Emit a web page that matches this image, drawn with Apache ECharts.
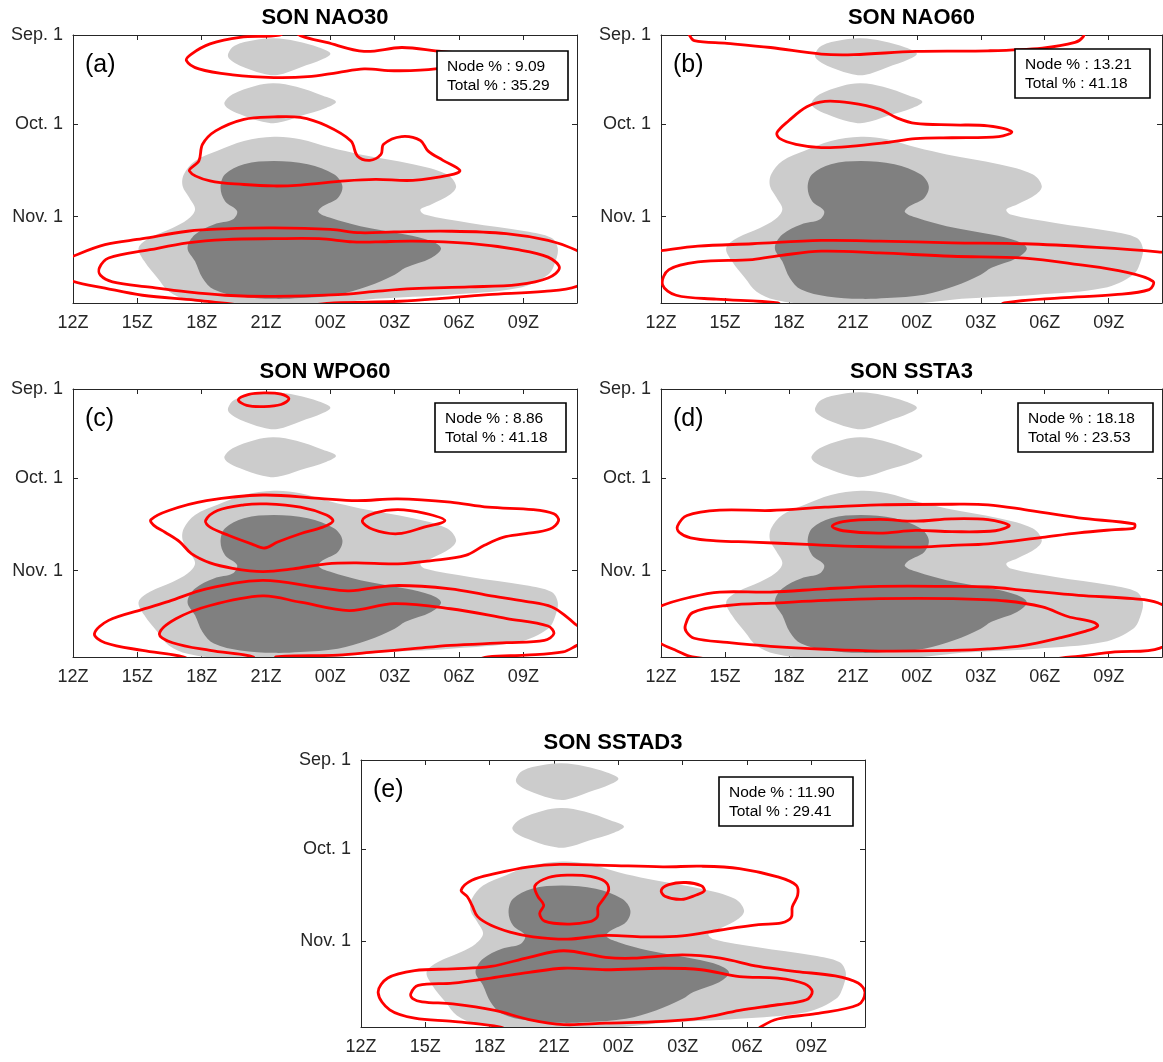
<!DOCTYPE html>
<html>
<head>
<meta charset="utf-8">
<title>SON diurnal-seasonal node occurrence</title>
<script src="https://cdn.jsdelivr.net/npm/echarts@6/dist/echarts.min.js"></script>
<style>
  html, body { margin: 0; padding: 0; background: #ffffff; }
  #chart { width: 1163px; height: 1062px; }
</style>
</head>
<body>
<div id="chart"></div>
<script>
// Axes: x = hours after 12Z, y = days after Sep. 1 (Sep. 1 .. Nov. 30)
const hourTicks = [0, 3, 6, 9, 12, 15, 18, 21];
const hourLabels = ['12Z', '15Z', '18Z', '21Z', '00Z', '03Z', '06Z', '09Z'];
const dayTicks = [0, 30, 61];
const dayLabels = ['Sep. 1', 'Oct. 1', 'Nov. 1'];

const panelTitles = ['SON NAO30', 'SON NAO60', 'SON WPO60', 'SON SSTA3', 'SON SSTAD3'];
const panelTags = ['(a)', '(b)', '(c)', '(d)', '(e)'];
const nodePct = ['9.09', '13.21', '8.86', '18.18', '11.90'];
const totalPct = ['35.29', '41.18', '41.18', '23.53', '29.41'];

// Climatological occurrence (shared by all panels): light = outer level, dark = inner level
const climLightTop = [[7.23,6.4],[7.53,3.6],[8.49,1.7],[9.37,1.1],[10.42,2.1],[11.47,4.2],[12.0,6.2],[11.65,8.1],[10.6,10.9],[9.54,13.4],[8.84,12.9],[7.79,10.3],[7.3,8.1]];
const climLightMid = [[7.06,22.7],[7.44,19.9],[8.49,17.1],[9.37,16.2],[10.42,17.4],[11.65,20.4],[12.26,22.4],[11.82,24.4],[10.6,27.2],[9.54,29.5],[8.84,29.1],[7.79,26.6],[7.18,24.4]];
const climLightMain = [[9.37,34.2],[10.6,35.0],[12.0,37.8],[13.4,40.1],[15.85,43.4],[17.43,46.8],[17.86,50.7],[17.6,53.5],[16.7,56.9],[16.2,58.6],[16.4,60.3],[18.5,63.1],[21.1,65.9],[22.3,68.1],[22.6,71.5],[22.5,76.0],[22.15,80.5],[20.75,85.0],[17.6,87.2],[14.1,88.6],[12.35,89.9],[9.37,90.5],[7.1,90.5],[5.34,88.9],[4.47,86.1],[3.94,81.6],[3.33,76.0],[3.06,71.5],[3.59,68.1],[4.64,64.8],[5.34,62.0],[5.69,58.6],[5.43,54.7],[5.11,50.7],[5.17,46.8],[5.69,42.3],[6.74,38.9],[7.97,35.6]];
const climDark = [[9.37,42.3],[10.95,43.4],[12.17,46.8],[12.56,50.7],[12.35,54.7],[11.65,57.5],[11.44,59.4],[12.0,61.4],[13.4,64.2],[15.5,67.0],[16.7,69.2],[17.16,71.7],[16.7,74.9],[15.5,78.2],[15.0,80.5],[13.75,84.4],[12.35,87.2],[10.6,88.3],[9.37,88.6],[7.8,87.8],[6.57,85.5],[6.04,81.6],[5.69,76.0],[5.34,71.5],[5.69,67.0],[6.57,63.6],[7.44,62.0],[7.65,59.1],[7.09,55.8],[6.88,51.3],[7.09,46.8],[7.97,43.4]];

// (a) SON NAO30 node contours
const nao30Top = [[10.2,-2.0],[10.6,0.2],[11.82,2.5],[13.57,5.5],[15.32,4.2],[16.9,5.3],[19.35,7.5],[16.9,11.4],[14.97,12.0],[13.57,11.4],[12.35,12.6],[10.95,14.0],[9.37,14.3],[7.44,13.4],[5.87,11.4],[5.29,8.6],[5.52,6.4],[6.39,3.0],[7.79,0.8],[9.63,0.0],[10.0,-2.0]];
const nao30Mid = [[9.37,27.5],[10.6,27.7],[11.82,30.5],[12.96,35.6],[13.26,40.6],[13.84,42.1],[14.36,40.1],[14.48,36.7],[15.32,34.1],[16.2,35.4],[16.55,38.9],[17.25,42.1],[18.04,45.5],[17.6,47.0],[15.85,48.8],[14.1,48.5],[12.7,49.0],[10.6,50.4],[9.37,50.7],[7.97,50.2],[6.39,49.0],[5.43,45.7],[5.87,42.3],[6.04,36.7],[6.65,32.2],[7.97,28.3]];
const nao30Outer = [[-1.3,78.5],[0,74.3],[1.49,70.4],[3.24,68.4],[5.34,65.9],[7.09,65.1],[9.37,64.8],[12.0,65.3],[13.4,66.4],[14.97,66.1],[17.6,65.9],[20.2,66.7],[22.15,69.0],[23.5,72.4],[24.9,78.5],[23.5,84.4],[21.98,86.1],[19.35,87.2],[16.7,88.7],[14.97,89.5],[12.17,90.0],[9.5,91.6],[6.92,90.0],[5.69,89.0],[3.24,87.4],[1.49,85.0],[0,82.7]];
const nao30Inner = [[1.23,78.2],[1.66,74.9],[3.59,72.1],[5.34,69.8],[7.09,68.7],[9.37,68.4],[11.47,68.4],[13.05,69.5],[14.1,69.5],[15.85,69.2],[18.48,70.0],[20.75,72.1],[22.15,74.6],[22.68,78.2],[22.15,81.6],[20.75,83.8],[18.48,84.6],[15.85,85.2],[14.1,86.1],[12.35,87.2],[9.37,87.8],[7.09,87.4],[5.34,86.3],[3.59,84.7],[1.84,82.9],[1.28,80.7]];

// (b) SON NAO60 node contours
const nao60Top = [[1.2,-1.8],[1.31,-0.2],[1.56,1.9],[3.1,2.8],[5.14,4.2],[7.52,6.4],[9.05,6.6],[11.94,5.5],[15.34,5.3],[17.89,4.4],[19.42,2.5],[19.8,0.6],[19.9,-1.8]];
const nao60Mid = [[5.44,32.8],[5.99,28.8],[6.84,24.1],[7.69,22.3],[8.88,22.8],[10.24,24.9],[11.09,27.9],[11.94,29.7],[13.64,30.2],[15.34,30.5],[16.45,32.5],[15.85,34.1],[13.64,34.5],[11.94,34.8],[10.58,36.1],[8.88,37.4],[7.52,37.8],[6.33,36.7],[5.56,34.7]];
const nao60Outer = [[-1.5,73.8],[0,72.4],[1.73,70.9],[4.29,70.1],[7.52,69.0],[10.24,69.2],[13.64,69.8],[17.04,70.1],[20.44,71.3],[23.3,72.8],[24.8,74.2]];
const nao60Inner = [[5.7,91.8],[5.48,90.0],[2.59,88.7],[0.71,87.4],[0.07,83.8],[0.37,78.8],[1.73,76.2],[4.29,75.4],[5.65,74.0],[7.52,72.6],[10.24,73.2],[13.64,74.3],[17.04,74.9],[19.59,77.1],[21.8,79.6],[23.08,82.7],[22.9,85.5],[21.29,87.2],[18.74,88.3],[16.1,90.0],[15.8,91.8]];

// (c) SON WPO60 node contours
const wpo60Top = [[7.71,3.6],[8.2,1.8],[8.9,1.3],[9.7,1.7],[10.07,3.3],[9.7,5.2],[8.9,5.9],[8.1,5.5]];
const wpo60Upper = [[3.63,43.9],[4.47,40.8],[6.22,37.5],[8.84,35.6],[11.47,36.7],[13.22,37.5],[15.15,36.9],[17.6,38.0],[19.35,39.7],[21.45,40.5],[22.42,41.9],[22.64,44.2],[22.24,47.0],[21.1,48.6],[20.05,49.8],[19.18,52.5],[18.3,55.9],[16.73,57.6],[15.15,58.7],[13.22,58.4],[11.82,58.7],[10.25,60.4],[8.84,61.3],[7.44,60.2],[6.39,58.4],[5.52,55.3],[4.99,51.4],[4.29,48.1],[3.77,45.8]];
const wpo60CoreW = [[6.18,44.2],[6.74,40.8],[7.97,38.9],[9.02,38.6],[10.6,39.7],[11.82,42.3],[12.12,44.4],[11.65,46.4],[10.6,48.6],[9.54,51.4],[8.93,53.4],[8.32,52.0],[7.27,49.2],[6.39,46.4]];
const wpo60CoreE = [[13.49,44.2],[14.1,41.6],[15.15,40.5],[16.37,41.7],[17.34,44.2],[16.37,46.4],[15.15,48.6],[14.0,47.2]];
const wpo60Outer = [[5.5,91.8],[5.17,90.0],[3.24,87.8],[1.49,85.2],[1.0,82.2],[1.66,77.7],[3.24,74.0],[4.47,71.3],[6.22,67.1],[8.84,64.3],[11.47,66.7],[12.87,67.8],[14.97,66.0],[17.6,67.1],[19.35,69.3],[21.1,71.3],[22.33,73.2],[23.12,77.1],[23.5,79.4],[24.4,83.0],[23.5,86.1],[22.85,88.3],[21.1,89.4],[19.35,90.0],[18.5,91.8]];
const wpo60Inner = [[8.0,91.8],[8.41,90.0],[6.39,87.8],[4.64,85.2],[4.03,82.2],[4.82,77.1],[6.39,72.7],[8.84,69.5],[10.6,71.6],[12.87,74.4],[14.97,72.1],[17.6,73.8],[20.23,77.1],[22.15,79.6],[22.42,82.2],[21.98,84.4],[20.23,85.2],[17.6,86.1],[15.85,87.2],[14.1,88.3],[12.35,89.4],[9.46,90.0],[9.8,91.8]];

// (d) SON SSTA3 node contours
const ssta3Upper = [[0.77,46.1],[1.22,42.5],[2.76,40.7],[5.14,40.8],[7.69,39.7],[10.24,38.9],[13.64,38.7],[15.34,38.9],[17.04,40.5],[19.59,43.3],[22.19,45.3],[22.19,46.7],[21.29,47.2],[19.59,48.3],[17.89,49.8],[15.34,52.0],[13.64,52.5],[11.94,53.1],[9.39,52.9],[6.84,52.2],[4.29,51.4],[2.59,51.0],[1.39,50.0],[0.85,48.1]];
const ssta3Core = [[8.03,46.1],[8.54,44.5],[10.24,43.8],[11.94,44.4],[13.64,43.6],[15.34,43.9],[16.33,45.8],[15.68,47.6],[13.64,47.9],[11.94,47.5],[10.24,48.4],[8.54,47.6]];
const ssta3Outer = [[0,72.9],[1.39,69.9],[2.76,68.2],[5.14,68.2],[7.69,67.1],[10.24,66.3],[13.64,66.3],[15.34,66.5],[17.04,67.6],[19.59,69.3],[22.14,70.4],[23.3,71.8],[24.9,79.0],[23.4,87.0],[21.29,88.3],[19.25,90.0],[15.5,92.6],[5.5,92.6],[1.48,90.0],[0.71,87.8],[0,85.5],[-1.5,79.0]];
const ssta3Inner = [[1.14,79.4],[1.48,75.1],[3.1,72.7],[5.48,71.8],[7.69,71.0],[10.24,70.4],[13.64,70.4],[16.19,71.2],[17.89,73.2],[19.08,76.4],[20.27,78.3],[20.48,79.6],[19.93,81.3],[18.74,83.5],[17.04,86.1],[15.34,87.3],[13.64,87.8],[10.24,88.0],[7.69,87.4],[5.14,86.4],[3.1,85.1],[1.56,83.7],[1.19,81.5]];

// (e) SON SSTAD3 node contours
const sstad3Upper = [[4.67,43.9],[5.17,40.5],[6.24,38.3],[7.84,36.0],[9.27,35.2],[11.41,35.5],[14.08,36.0],[15.87,35.8],[17.65,36.6],[19.43,39.4],[20.29,42.2],[20.36,45.6],[20.11,49.5],[20.06,53.1],[19.61,54.9],[18.54,55.5],[16.76,57.3],[14.98,59.3],[13.19,59.6],[11.41,59.1],[9.63,60.4],[8.02,59.6],[6.95,58.0],[6.06,55.7],[5.44,52.8],[5.17,48.9],[4.96,46.1]];
const sstad3CoreW = [[8.11,42.4],[8.74,39.6],[9.63,38.8],[10.7,39.2],[11.37,40.9],[11.55,43.7],[11.32,46.7],[11.05,49.5],[11.02,52.8],[10.61,54.6],[9.63,55.3],[8.56,54.3],[8.33,51.7],[8.52,48.9],[8.24,45.9]];
const sstad3CoreE = [[14.0,43.9],[14.35,42.0],[15.15,41.3],[15.87,42.4],[16.01,44.1],[15.6,45.6],[14.94,47.0],[14.17,45.9]];
const sstad3Outer = [[6.9,91.8],[6.51,90.0],[4.28,88.1],[2.5,87.0],[1.34,84.2],[0.8,78.4],[1.25,73.5],[2.5,71.0],[4.28,70.4],[6.06,69.6],[7.84,66.5],[9.45,64.3],[11.41,66.5],[12.66,66.8],[14.98,65.7],[16.76,66.8],[18.54,69.6],[20.32,71.3],[22.11,72.8],[23.18,75.2],[23.5,78.4],[23.18,82.5],[21.22,85.5],[19.43,87.3],[18.63,90.0],[18.4,91.8]];
const sstad3Inner = [[2.32,78.8],[2.67,76.0],[4.28,75.2],[6.06,73.5],[7.84,71.6],[9.45,70.2],[11.41,70.7],[14.08,70.2],[15.87,70.7],[17.65,73.0],[19.43,73.5],[20.68,75.4],[21.04,78.0],[20.77,80.8],[19.43,82.5],[17.65,84.4],[15.87,87.0],[14.08,88.1],[11.41,88.7],[9.45,89.2],[7.84,87.5],[6.24,84.4],[4.28,82.2],[2.85,81.5],[2.41,80.4]];

// Contour sets per panel (closed = ring, otherwise an open line that leaves the axes)
const panelContours = [
  [{ pts: nao30Top, closed: false }, { pts: nao30Mid, closed: true }, { pts: nao30Outer, closed: true }, { pts: nao30Inner, closed: true }],
  [{ pts: nao60Top, closed: false }, { pts: nao60Mid, closed: true }, { pts: nao60Outer, closed: false }, { pts: nao60Inner, closed: false }],
  [{ pts: wpo60Top, closed: true }, { pts: wpo60Upper, closed: true }, { pts: wpo60CoreW, closed: true }, { pts: wpo60CoreE, closed: true }, { pts: wpo60Outer, closed: false }, { pts: wpo60Inner, closed: false }],
  [{ pts: ssta3Upper, closed: true }, { pts: ssta3Core, closed: true }, { pts: ssta3Outer, closed: true }, { pts: ssta3Inner, closed: true }],
  [{ pts: sstad3Upper, closed: true }, { pts: sstad3CoreW, closed: true }, { pts: sstad3CoreE, closed: true }, { pts: sstad3Outer, closed: false }, { pts: sstad3Inner, closed: true }]
];

const climShapes = [
  { pts: climLightTop, fill: '#cccccc' },
  { pts: climLightMid, fill: '#cccccc' },
  { pts: climLightMain, fill: '#cccccc' },
  { pts: climDark, fill: '#808080' }
];

// Layout of the five axes boxes (pixels)
const grids = [
  { left: 73, top: 35, width: 504, height: 268 },
  { left: 661, top: 35, width: 501, height: 268 },
  { left: 73, top: 389, width: 504, height: 268 },
  { left: 661, top: 389, width: 501, height: 268 },
  { left: 361, top: 760, width: 504, height: 267 }
];
const boxOffsets = [
  { dx: 364, dy: 16 }, { dx: 354, dy: 14 }, { dx: 362, dy: 14 }, { dx: 357, dy: 14 }, { dx: 358, dy: 17 }
];

const FONT = '"Liberation Sans", Arial, Helvetica, sans-serif';
const AXIS_COLOR = '#262626';

const measureCtx = document.createElement('canvas').getContext('2d');
function textWidth(str, size) {
  measureCtx.font = size + 'px ' + FONT;
  return measureCtx.measureText(str).width;
}

const xAxes = [], yAxes = [], series = [], graphics = [];

grids.forEach((g, i) => {
  const tickStyle = { show: true, inside: true, length: 5, lineStyle: { color: AXIS_COLOR, width: 1 } };
  const lineStyle = { show: true, onZero: false, lineStyle: { color: AXIS_COLOR, width: 1 } };
  xAxes.push({
    gridIndex: i, type: 'value', min: 0, max: 23.5, position: 'bottom',
    axisLine: lineStyle,
    axisTick: Object.assign({ customValues: hourTicks }, tickStyle),
    axisLabel: {
      customValues: hourTicks,
      formatter: v => hourLabels[hourTicks.indexOf(v)] || '',
      color: AXIS_COLOR, fontSize: 18, fontFamily: FONT, margin: 11
    },
    splitLine: { show: false }
  });
  xAxes.push({
    gridIndex: i, type: 'value', min: 0, max: 23.5, position: 'top',
    axisLine: lineStyle,
    axisTick: Object.assign({ customValues: hourTicks }, tickStyle),
    axisLabel: { show: false },
    splitLine: { show: false }
  });
  yAxes.push({
    gridIndex: i, type: 'value', min: 0, max: 90, inverse: true, position: 'left',
    axisLine: lineStyle,
    axisTick: Object.assign({ customValues: dayTicks }, tickStyle),
    axisLabel: {
      customValues: dayTicks,
      formatter: v => dayLabels[dayTicks.indexOf(v)] || '',
      color: AXIS_COLOR, fontSize: 18, fontFamily: FONT, margin: 10
    },
    splitLine: { show: false }
  });
  yAxes.push({
    gridIndex: i, type: 'value', min: 0, max: 90, inverse: true, position: 'right',
    axisLine: lineStyle,
    axisTick: Object.assign({ customValues: dayTicks }, tickStyle),
    axisLabel: { show: false },
    splitLine: { show: false }
  });

  // Filled climatology levels
  series.push({
    type: 'custom', name: 'climatology-' + i,
    xAxisIndex: i * 2, yAxisIndex: i * 2,
    clip: true, silent: true, z: 1,
    data: climShapes.map(s => s.pts[0]),
    renderItem: (params, api) => {
      const s = climShapes[params.dataIndex];
      return {
        type: 'polygon',
        shape: { points: s.pts.map(p => api.coord(p)), smooth: 0.35 },
        style: { fill: s.fill, stroke: null }
      };
    }
  });

  // Node occurrence contours
  const contours = panelContours[i];
  series.push({
    type: 'custom', name: 'node-' + i,
    xAxisIndex: i * 2, yAxisIndex: i * 2,
    clip: true, silent: true, z: 3,
    data: contours.map(c => c.pts[0]),
    renderItem: (params, api) => {
      const c = contours[params.dataIndex];
      return {
        type: c.closed ? 'polygon' : 'polyline',
        shape: { points: c.pts.map(p => api.coord(p)), smooth: 0.35 },
        style: { fill: 'none', stroke: '#ff0000', lineWidth: 2.8, lineJoin: 'round' }
      };
    }
  });

  // Title
  graphics.push({
    type: 'text', x: g.left + g.width / 2, y: g.top - 17, z: 50,
    style: {
      text: panelTitles[i], fill: '#000', fontSize: 22, fontWeight: 'bold', fontFamily: FONT,
      align: 'center', verticalAlign: 'middle'
    }
  });
  // Panel tag
  graphics.push({
    type: 'text', x: g.left + 12, y: g.top + 30, z: 50,
    style: { text: panelTags[i], fill: '#000', fontSize: 25, fontFamily: FONT, align: 'left', verticalAlign: 'middle' }
  });
  // Node / Total percentage box
  const line1 = 'Node % : ' + nodePct[i];
  const line2 = 'Total % : ' + totalPct[i];
  const tw = Math.max(textWidth(line1, 15.5), textWidth(line2, 15.5));
  const bx = g.left + boxOffsets[i].dx, by = g.top + boxOffsets[i].dy;
  graphics.push({
    type: 'rect', z: 60,
    shape: { x: bx, y: by, width: Math.round(tw + 28), height: 49 },
    style: { fill: '#ffffff', stroke: '#000000', lineWidth: 1.6 }
  });
  graphics.push({
    type: 'text', x: bx + 10, y: by + 16, z: 61,
    style: { text: line1, fill: '#000', fontSize: 15.5, fontFamily: FONT, align: 'left', verticalAlign: 'middle' }
  });
  graphics.push({
    type: 'text', x: bx + 10, y: by + 35, z: 61,
    style: { text: line2, fill: '#000', fontSize: 15.5, fontFamily: FONT, align: 'left', verticalAlign: 'middle' }
  });
});

const chart = echarts.init(document.getElementById('chart'), null, { renderer: 'canvas' });
chart.setOption({
  backgroundColor: '#ffffff',
  animation: false,
  grid: grids.map(g => Object.assign({ containLabel: false, show: false }, g)),
  xAxis: xAxes,
  yAxis: yAxes,
  series: series,
  graphic: { elements: graphics }
});
</script>
</body>
</html>
